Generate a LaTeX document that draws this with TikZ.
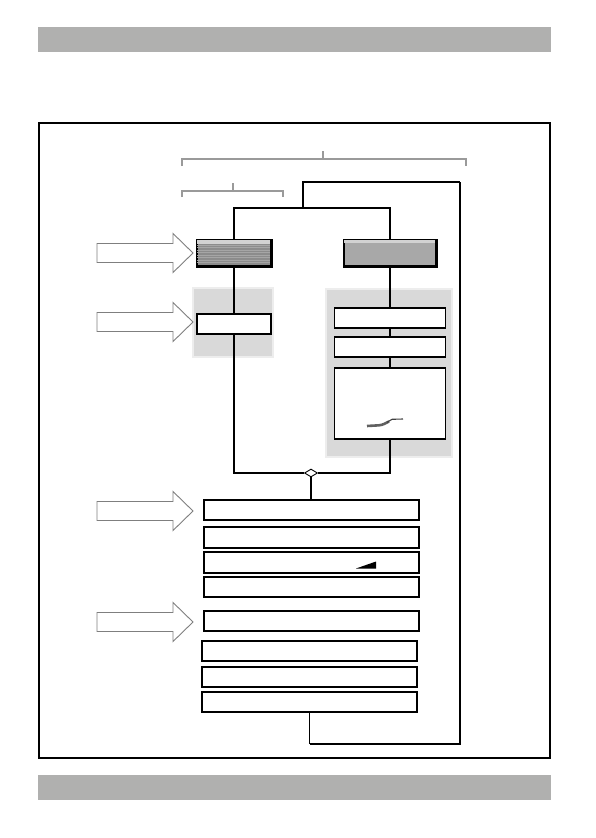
\documentclass[tikz,border=0pt]{standalone}
\usetikzlibrary{shapes.geometric}
\definecolor{bargray}{HTML}{B0B0AF}
\definecolor{panelgray}{HTML}{D9D9D9}
\definecolor{paneledge}{HTML}{EDEDED}
\definecolor{arrowgray}{HTML}{7F7F7F}
\definecolor{bracketgray}{HTML}{9A9A9A}
\definecolor{stripedark}{HTML}{8C8C8C}
\definecolor{stripelight}{HTML}{A6A6A6}
\definecolor{boxbgray}{HTML}{A8A8A8}
\definecolor{toplight}{HTML}{D2D2D2}
\begin{document}
\begin{tikzpicture}[x=1bp,y=-1bp,
  box/.style={draw=black,line width=1.1bp,fill=white,inner sep=0pt,rectangle},
  panel/.style={fill=panelgray,draw=paneledge,line width=2bp},
  arrowline/.style={draw=arrowgray,fill=white,line width=0.9bp,line join=miter},
  bracket/.style={draw=bracketgray,line width=1.1bp},
  wire/.style={draw=black,line width=1.1bp},
  loopwire/.style={draw=black,line width=2.2bp}]
\useasboundingbox (0,0) rectangle (596,838);

% header / footer bars and frame
\fill[bargray] (38,27) rectangle (551,52);
\fill[bargray] (38,775) rectangle (551,800);
\draw[line width=1.2bp] (39,123) rectangle (550,758);

% brackets
\draw[bracket] (182,166) -- (182,159) -- (466,159) -- (466,166);
\draw[bracket] (323,159) -- (323,151);
\draw[bracket] (182,197) -- (182,191) -- (283,191) -- (283,197);
\draw[bracket] (233,191) -- (233,183);

% gray panels
\draw[panel] (193,288) rectangle (273,357);
\draw[panel] (326,289) rectangle (452,457);

% block arrows
\foreach \cy in {253,322,511,622}
  \draw[arrowline] (97,\cy-9.5) -- (173,\cy-9.5) -- (173,\cy-19.5) -- (193,\cy)
     -- (173,\cy+19.5) -- (173,\cy+9.5) -- (97,\cy+9.5) -- cycle;

% top boxes
\node[box,fill=stripedark,minimum width=74bp,minimum height=26bp] (A) at (234,253) {};
\begin{scope}
  \clip (197,240) rectangle (271,266);
  \foreach \yy in {245,247.5,...,266} \draw[stripelight,line width=0.7bp] (197,\yy) -- (271,\yy);
  \fill[toplight] (197,240) rectangle (271,244);
\end{scope}
\draw[line width=1.1bp] (A.south west) rectangle (A.north east);
\draw[line width=2.2bp] (A.north east) -- (A.south east) -- (A.south west);

\node[box,fill=boxbgray,minimum width=92bp,minimum height=26bp] (B) at (390,253) {};
\fill[toplight] (344,240) rectangle (436,243);
\draw[line width=1.1bp] (B.south west) rectangle (B.north east);
\draw[line width=2.2bp] (B.north east) -- (B.south east) -- (B.south west);

% inner boxes
\node[box,minimum width=74bp,minimum height=20bp] (C) at (234,324) {};
\node[box,minimum width=111bp,minimum height=20bp] (D) at (390,318) {};
\node[box,minimum width=111bp,minimum height=20bp] (E) at (390,347) {};
\node[box,minimum width=111bp,minimum height=71bp] (F) at (390,403.5) {};

% squiggle in F
\draw[line width=2.6bp,gray!75!black] (367,426) -- (379,425.3) to[out=5,in=205] (389,421.5);
\draw[line width=1.1bp,gray!50!black] (387,422.3) -- (392,419.3) -- (403,419);

% diamond junction
\node[diamond,draw,line width=0.9bp,fill=white,inner sep=0pt,minimum width=13bp,minimum height=8bp] (dm) at (311,473) {};

% lower boxes
\node[box,minimum width=215bp,minimum height=20bp] (G) at (311.5,510) {};
\node[box,minimum width=215bp,minimum height=21bp] (H) at (311.5,537.5) {};
\node[box,minimum width=215bp,minimum height=21bp] (I) at (311.5,562.5) {};
\node[box,minimum width=215bp,minimum height=20bp] (J) at (311.5,587) {};
\node[box,minimum width=215bp,minimum height=20bp] (K) at (311.5,621) {};
\node[box,minimum width=215bp,minimum height=20bp] (L) at (309.5,651) {};
\node[box,minimum width=215bp,minimum height=20bp] (M) at (309.5,677) {};
\node[box,minimum width=215bp,minimum height=20bp] (N) at (309.5,702) {};

% triangle in I
\fill[black] (356,568.5) -- (376,568.5) -- (376,561.5) -- cycle;

% connectors
\coordinate (top) at (303,208);
\coordinate (lp1) at (303,182);
\coordinate (lp2) at (460,744);
\draw[wire] (A.north) |- (top) -| (B.north);
\draw[wire] (top) -- (lp1) -- (lp1 -| lp2);
\draw[loopwire] (lp1 -| lp2) -- (lp2) -- (lp2 -| N.south);
\draw[wire] (lp2 -| N.south) -- (N.south);
\draw[wire] (A.south) -- (C.north);
\draw[wire] (C.south) |- (dm.west);
\draw[wire] (B.south) -- (D.north);
\draw[wire] (D.south) -- (E.north);
\draw[wire] (E.south) -- (F.north);
\draw[wire] (F.south) |- (dm.east);
\draw[wire] (dm.south) -- (dm.south |- G.north);
\end{tikzpicture}
\end{document}
